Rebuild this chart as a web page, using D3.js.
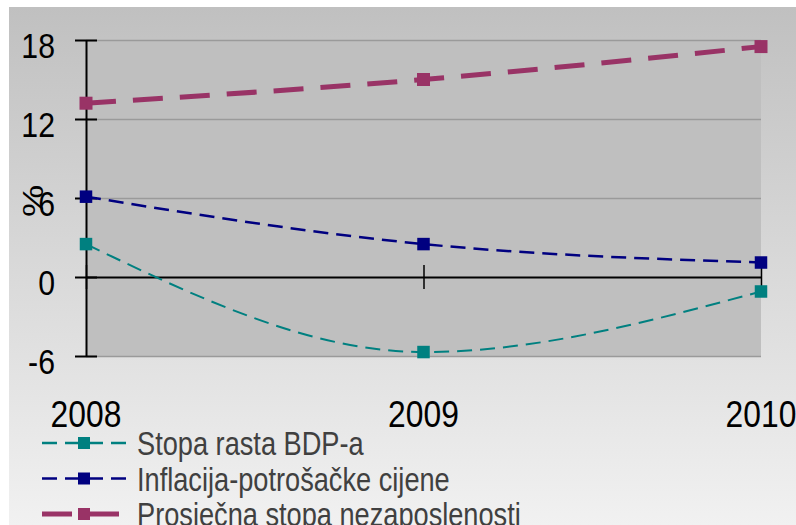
<!DOCTYPE html>
<html>
<head>
<meta charset="utf-8">
<script src="https://cdn.jsdelivr.net/npm/d3@7"></script>
<style>
  body { margin: 0; background: #fff; }
  svg text { font-family: "Liberation Sans", Arial, sans-serif; }
</style>
</head>
<body>
<script>
'use strict';

// chart data
let years = ["2008", "2009", "2010"];
let seriesNames = ["Stopa rasta BDP-a", "Inflacija-potrošačke cijene", "Prosječna stopa nezaposlenosti"];
let gdpGrowth = [2.5, -5.7, -1.1];
let inflation = [6.1, 2.5, 1.1];
let unemployment = [13.2, 15.0, 17.5];
let yTicks = [-6, 0, 6, 12, 18];

// size
let width = 796,
  height = 525;

let plot = { left: 86, right: 761, top: 40, bottom: 356 };

// no narrow font installed, so squeeze the regular one
let squeeze = 0.84;

window.onload = function () {
  let svg = d3.select("body")
    .append("svg")
    .attr("width", width)
    .attr("height", height);

  let x = d3.scalePoint().domain(years).range([plot.left, plot.right]);
  let y = d3.scaleLinear().domain([-6, 18]).range([plot.bottom, plot.top]);

  drawBackground(svg, y);
  drawAxes(svg, x, y);

  let series = [
    { name: seriesNames[0], values: gdpGrowth, color: "#008080", width: 2, dash: "15,8", marker: 12.5 },
    { name: seriesNames[1], values: inflation, color: "#000080", width: 2.5, dash: "15,8", marker: 12.5 },
    { name: seriesNames[2], values: unemployment, color: "#993366", width: 5, dash: "30,17", marker: 13 }
  ];

  drawSeries(svg, x, y, series);
  drawLegend(svg, series);
}

// text squeezed horizontally round its anchor point
function narrowText(parent, x, y, str, size, anchor, sx) {
  return parent.append("text")
    .attr("transform", "translate(" + x + "," + y + ") scale(" + sx + ",1)")
    .attr("text-anchor", anchor)
    .attr("font-size", size)
    .text(str);
}

// background and plot area
function drawBackground(svg, y) {
  let grad = svg.append("defs").append("linearGradient")
    .attr("id", "bg")
    .attr("x1", 0).attr("y1", 0).attr("x2", 0).attr("y2", 1);
  grad.append("stop").attr("offset", "0%").attr("stop-color", "#c0c0c0");
  grad.append("stop").attr("offset", "100%").attr("stop-color", "#f1f1f1");

  svg.append("rect")
    .attr("x", 9).attr("y", 7)
    .attr("width", width - 9).attr("height", height - 7)
    .attr("fill", "url(#bg)");

  svg.append("rect")
    .attr("x", plot.left).attr("y", plot.top)
    .attr("width", plot.right - plot.left)
    .attr("height", plot.bottom - plot.top)
    .attr("fill", "#bfbfbf");

  // gridlines
  svg.append("g")
    .attr("transform", "translate(" + plot.left + ",0)")
    .call(d3.axisLeft(y)
      .tickValues(yTicks.filter(d => d !== 0))
      .tickSize(-(plot.right - plot.left))
      .tickFormat(""))
    .call(g => g.select(".domain").remove())
    .call(g => g.selectAll(".tick line")
      .attr("stroke", "#9a9a9a")
      .attr("stroke-width", 1.6));
}

function drawAxes(svg, x, y) {
  // y axis with crossing ticks
  svg.append("g")
    .attr("transform", "translate(" + plot.left + ",0)")
    .call(d3.axisLeft(y)
      .tickValues(yTicks)
      .tickSize(11)
      .tickSizeOuter(0)
      .tickFormat(d => String(d)))
    .call(g => g.select(".domain").attr("stroke", "#000").attr("stroke-width", 2))
    .call(g => g.selectAll(".tick line")
      .attr("x1", -11).attr("x2", 11)
      .attr("stroke", "#000").attr("stroke-width", 2))
    .call(g => g.selectAll(".tick text")
      .attr("x", 0).attr("dy", null)
      .attr("transform", "translate(-31,17) scale(" + squeeze + ",1)")
      .attr("font-size", 36)
      .attr("fill", "#000"));

  // x axis at zero
  svg.append("g")
    .attr("transform", "translate(0," + y(0) + ")")
    .call(d3.axisBottom(x)
      .tickSize(12)
      .tickSizeOuter(0)
      .tickFormat(""))
    .call(g => g.select(".domain").attr("stroke", "#000").attr("stroke-width", 2))
    .call(g => g.selectAll(".tick line")
      .attr("y1", -12).attr("y2", 12)
      .attr("stroke", "#000").attr("stroke-width", 1.5));

  // year labels below plot
  let labels = svg.append("g").attr("fill", "#000");
  years.forEach(d => narrowText(labels, x(d), 427, d, 37, "middle", 0.86));

  // axis title
  svg.append("text")
    .attr("transform", "translate(43,201) rotate(-90) scale(1.25,1)")
    .attr("text-anchor", "middle")
    .attr("font-size", 29)
    .attr("fill", "#000")
    .text("%");
}

function drawSeries(svg, x, y, series) {
  let line = d3.line()
    .x((d, i) => x(years[i]))
    .y(d => y(d))
    .curve(d3.curveMonotoneX);

  series.forEach(s => {
    let g = svg.append("g");
    g.append("path")
      .attr("d", line(s.values))
      .attr("fill", "none")
      .attr("stroke", s.color)
      .attr("stroke-width", s.width)
      .attr("stroke-dasharray", s.dash);
    g.selectAll("rect")
      .data(s.values)
      .join("rect")
      .attr("x", (d, i) => x(years[i]) - s.marker / 2)
      .attr("y", d => y(d) - s.marker / 2)
      .attr("width", s.marker)
      .attr("height", s.marker)
      .attr("fill", s.color);
  });
}

function drawLegend(svg, series) {
  let rowY = [443, 478.5, 514];
  let g = svg.append("g").attr("fill", "#404040");
  series.forEach((s, i) => {
    let row = g.append("g").attr("transform", "translate(0," + rowY[i] + ")");
    row.append("line")
      .attr("x1", 42).attr("x2", 127)
      .attr("stroke", s.color)
      .attr("stroke-width", s.width === 5 ? 5 : 2.5)
      .attr("stroke-dasharray", s.dash);
    row.append("rect")
      .attr("x", 84 - 6).attr("y", -6)
      .attr("width", 12).attr("height", 12)
      .attr("fill", s.color);
    narrowText(row, 137, 12, s.name, 34, "start", 0.8);
  });
}
</script>
</body>
</html>
